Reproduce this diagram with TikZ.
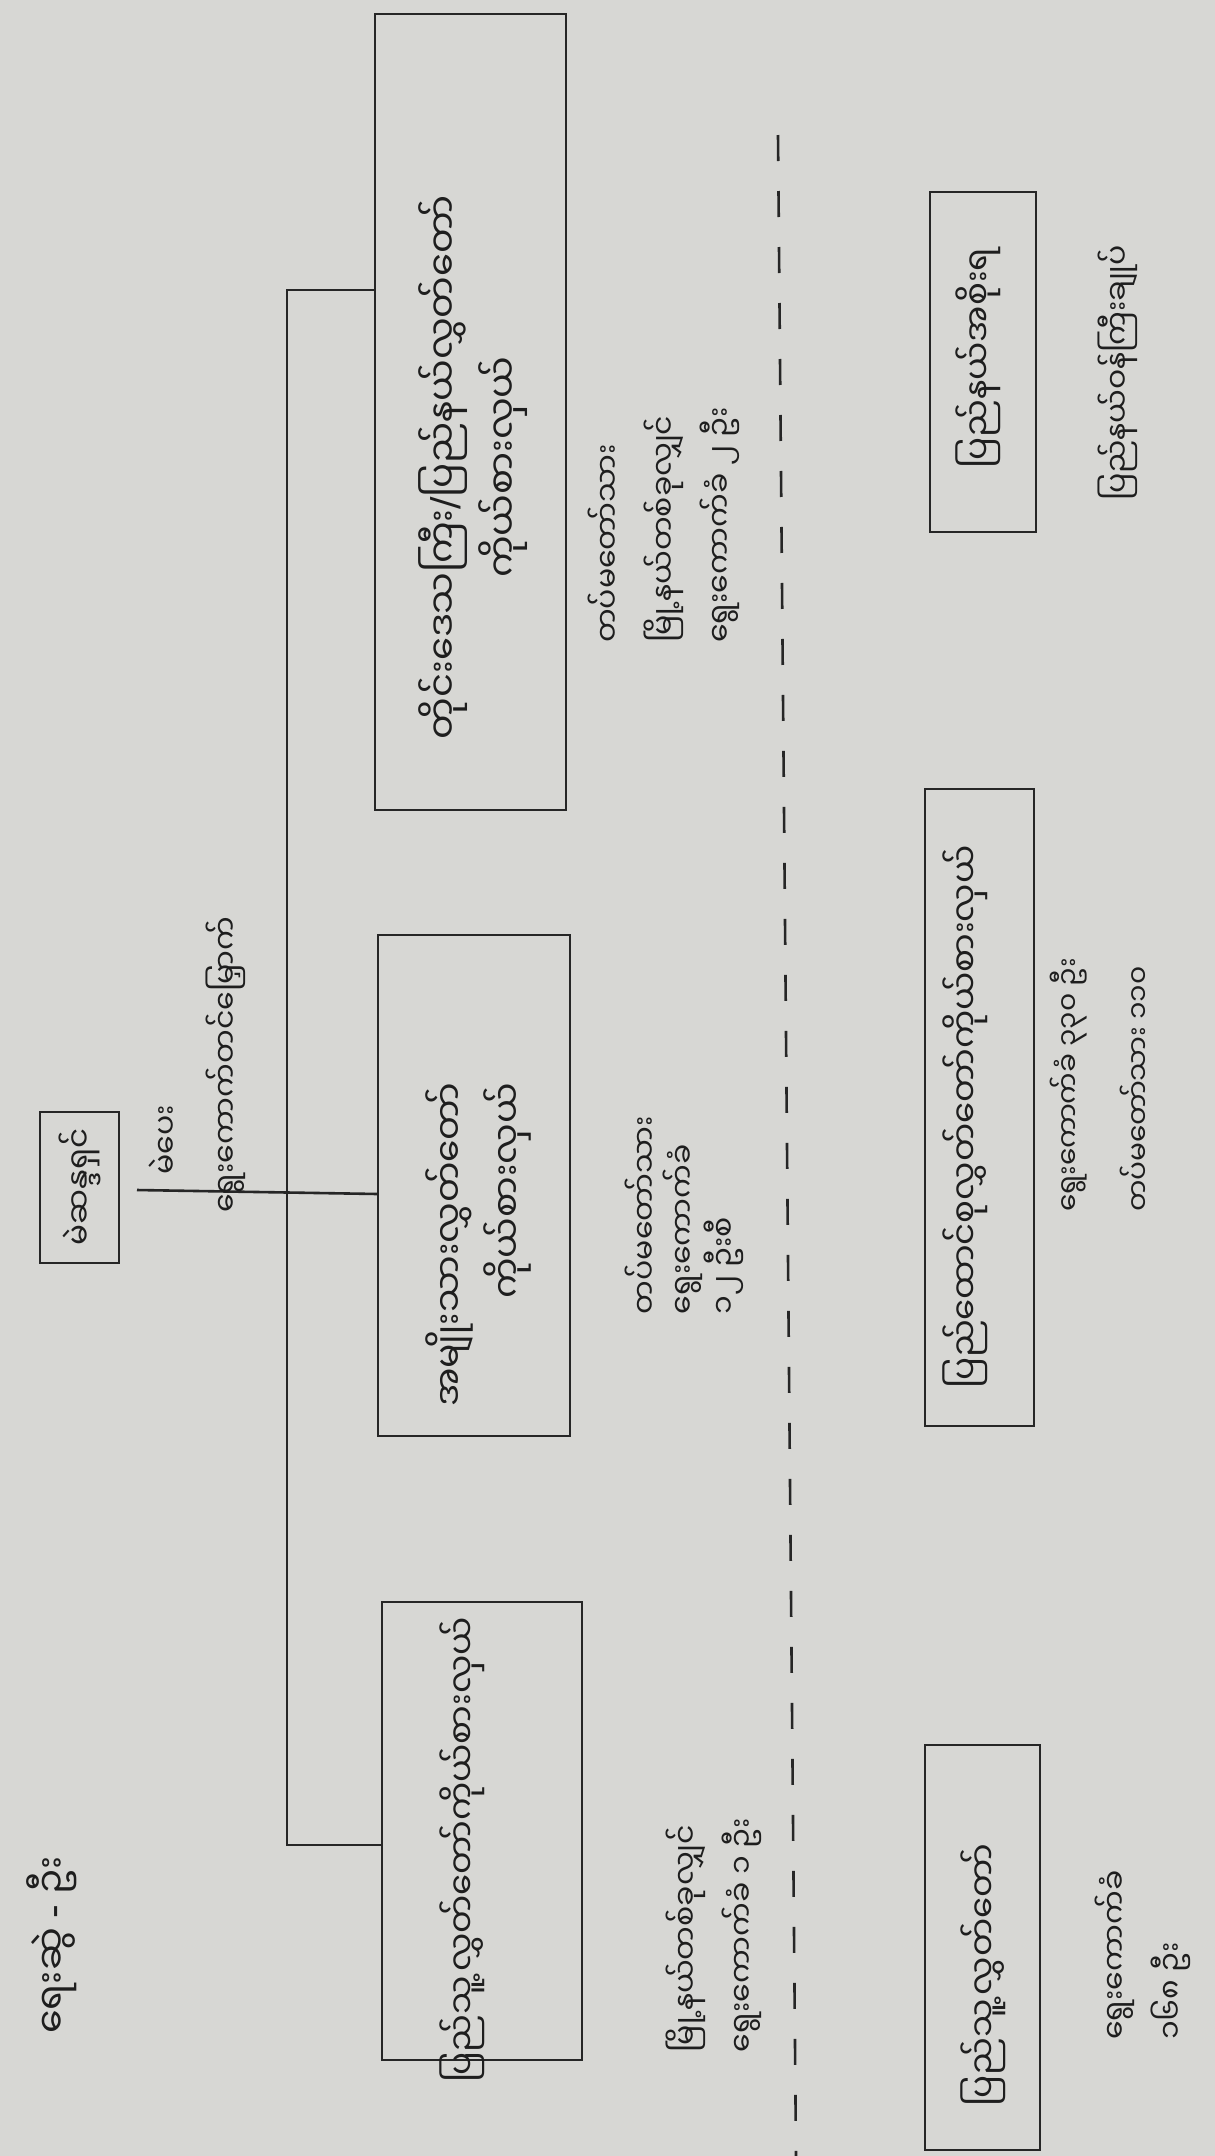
\documentclass[tikz,border=0pt]{standalone}
\usepackage{fontspec}
\newfontfamily\mm[Script=Myanmar]{Noto Sans Myanmar UI}
\newfontfamily\lat{DejaVu Sans}
\definecolor{paper}{RGB}{215,215,212}
\definecolor{inkc}{RGB}{38,38,38}
\definecolor{textc}{RGB}{30,30,30}
\begin{document}
\begin{tikzpicture}[x=1pt,y=-1pt,
  ink/.style={draw=inkc,line width=2.6pt},
  box/.style={ink},
  bt/.style={rotate=90,font=\mm\fontsize{34}{56}\selectfont,text=textc,align=center,inner sep=0pt},
  lt/.style={rotate=90,font=\mm\fontsize{30}{56}\selectfont,text=textc,align=left,inner sep=0pt}]
\fill[paper] (0,0) rectangle (1215,2156);
\useasboundingbox (0,0) rectangle (1215,2156);
% top row (image right)
\draw[box] (930,192) rectangle (1036,532);
\draw[box] (925,789) rectangle (1034,1426);
\draw[box] (925,1745) rectangle (1040,2150);
\node[bt] (ta) at (978,358) {ပြည်နယ်အစိုးရ};
\node[bt] (tb) at (965,1117) {ပြည်ထောင်စုလွှတ်တော်ကိုယ်စားလှယ်};
\node[bt] (tc) at (983,1975) {ပြည်သူ့လွှတ်တော်};
\node[lt] (la) at (1118,373) {ပြည်နယ်ဝန်ကြီးချုပ်};
\node[lt, font=\mm\fontsize{28}{70}\selectfont] (lb) at (1100,1085) {ရွေးကောက်ခံ ၃၃၀ ဦး\\တပ်မတော်သား ၁၁၀};
\node[lt] (lc) at (1143,1955) {ရွေးကောက်ခံ\\၁၆၈ ဦး};
% dashed line
\draw[ink,dash pattern=on 26pt off 30pt] (778,135) -- (796,2156);
% lower boxes
\draw[box] (375,14) rectangle (566,810);
\draw[box] (378,935) rectangle (570,1436);
\draw[box] (382,1602) rectangle (582,2060);
\node[bt, font=\mm\fontsize{37}{60}\selectfont] (bd) at (473,467) {တိုင်းဒေသကြီး{\lat /}ပြည်နယ်လွှတ်တော်\\ကိုယ်စားလှယ်};
\node[bt, align=right, font=\mm\fontsize{36}{58}\selectfont] (be) at (478,1245) {အမျိုးသားလွှတ်တော်\\ကိုယ်စားလှယ်};
\node[bt] (bf) at (462,1850) {ပြည်သူ့လွှတ်တော်ကိုယ်စားလှယ်};
\node[lt] (ld) at (664,525) {တပ်မတော်သား\\မြို့နယ်တစ်ခုလျှင်\\ရွေးကောက်ခံ ၂ ဦး};
\node[lt, font=\mm\fontsize{30}{38}\selectfont] (le) at (684,1215) {တပ်မတော်သား\\ရွေးကောက်ခံ\\၁၂ ဦးစီ};
\node[lt] (lf) at (714,1935) {မြို့နယ်တစ်ခုလျှင်\\ရွေးကောက်ခံ ၁ ဦး};
% voters box
\draw[box] (40,1112) rectangle (119,1263);
\node[bt, font=\mm\fontsize{31}{50}\selectfont] (v) at (80,1187) {မဲဆန္ဒရှင်};
\coordinate (b1) at (287,290);
\coordinate (b2) at (287,1192);
\coordinate (b3) at (287,1845);
\draw[ink] (375,290) -- (b1) -- (b3) -- (382,1845);
\draw[ink] (137,1190) -- (378,1194);
\node[lt] (c1) at (163,1140) {မဲပေး};
\node[lt] (c2) at (226,1065) {ရွေးကောက်တင်မြှောက်};
\node[lt, font=\mm\fontsize{38}{56}\selectfont] (cap) at (52,1945) {ရေးဆွဲ {\lat -} ဦး};
\end{tikzpicture}
\end{document}
